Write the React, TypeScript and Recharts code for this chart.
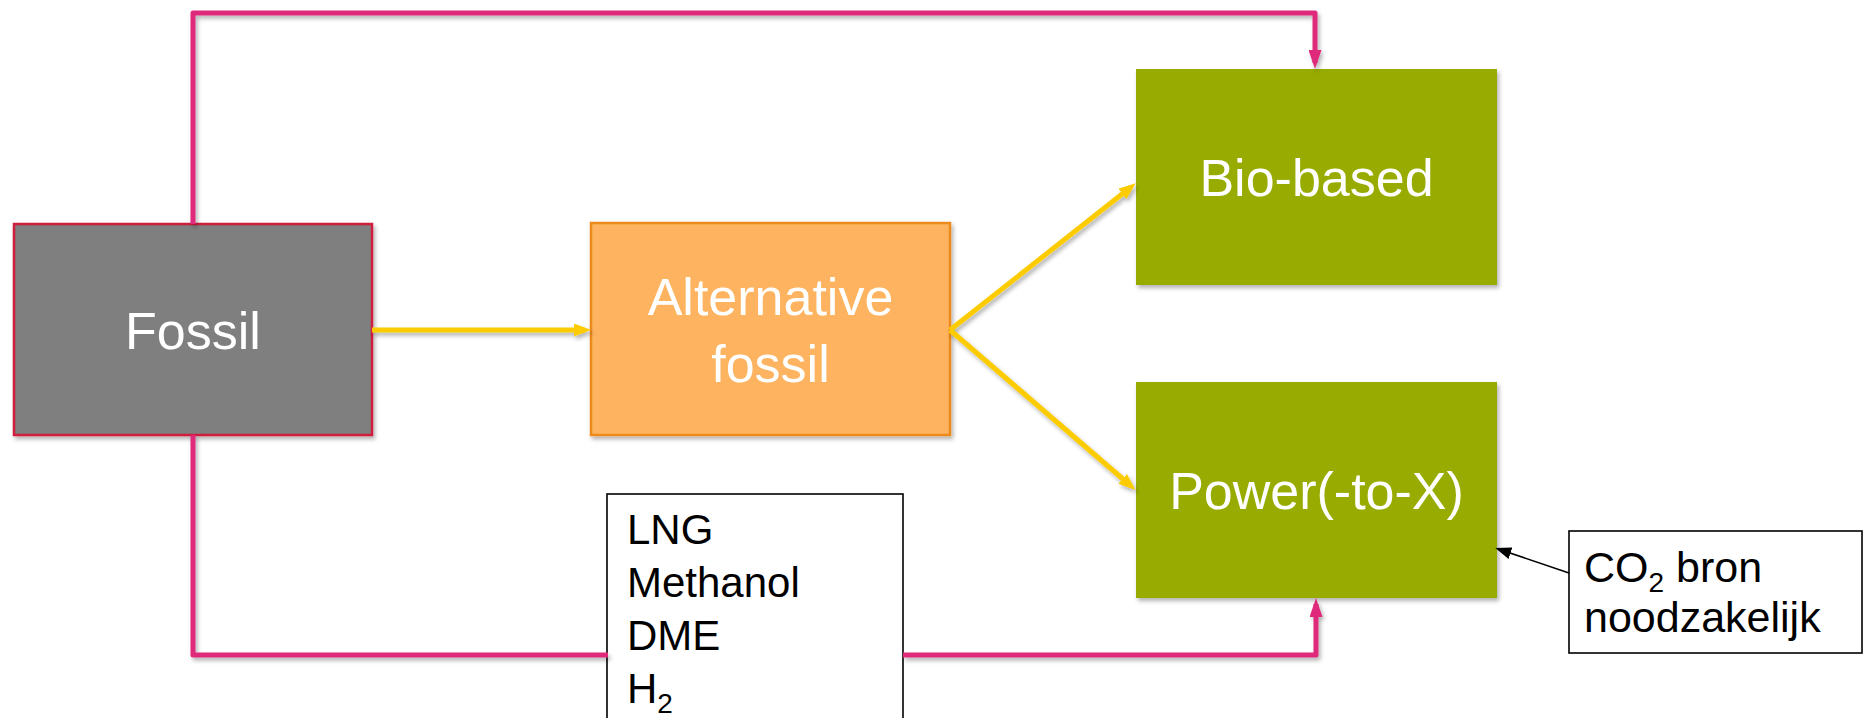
import { ComposedChart, Line, XAxis, YAxis, ReferenceArea } from 'recharts'

const W = 1865
const H = 718

// main blocks of the flow diagram (picture units: x right, y down)
const blockLines = [['Fossil'], ['Alternative', 'fossil'], ['Bio-based'], ['Power(-to-X)']]
const blockX1 = [14, 591, 1136, 1136]
const blockX2 = [372, 950, 1497, 1497]
const blockY1 = [224, 223, 69, 382]
const blockY2 = [435, 435, 285, 598]

// note boxes
const noteLines = [
  [{ t: 'LNG' }, { t: 'Methanol' }, { t: 'DME' }, { t: 'H', sub: '2' }],
  [{ t: 'CO', sub: '2', rest: ' bron' }, { t: 'noodzakelijk' }],
]
const noteX1 = [607, 1569]
const noteX2 = [903, 1862]
const noteY1 = [494, 531]
const noteY2 = [740, 653]

// connectors (last point = shaft end, the marker adds the tip)
const pinkTop = [
  { x: 193, y: 224 },
  { x: 193, y: 13 },
  { x: 1315, y: 13 },
  { x: 1315, y: 63 },
]
const pinkBottomA = [
  { x: 193, y: 435 },
  { x: 193, y: 655 },
  { x: 608, y: 655 },
]
const pinkBottomB = [
  { x: 903, y: 655 },
  { x: 1316, y: 655 },
  { x: 1316, y: 604 },
]
const yellowStraight = [
  { x: 372, y: 330 },
  { x: 585, y: 330 },
]
const yellowUp = [
  { x: 950, y: 330 },
  { x: 1131, y: 187 },
]
const yellowDown = [
  { x: 950, y: 330 },
  { x: 1131, y: 486 },
]
const blackPointer = [
  { x: 1569, y: 573 },
  { x: 1501, y: 550 },
]

const blockFill = ['#7f7f7f', '#fdb35f', '#97ab00', '#97ab00']
const blockStroke = ['#d01f3c', '#ec8a1e', 'none', 'none']
const FONT = "'Liberation Sans', Arial, Helvetica, sans-serif"

function BlockShape(props: any) {
  const { x, y, width, height, idx } = props
  const lines = blockLines[idx]
  const cx = x + width / 2
  const cy = y + height / 2
  const fs = 52
  const gap = 67
  const first = cy - ((lines.length - 1) * gap) / 2 + fs * 0.37
  return (
    <g>
      <rect
        x={x}
        y={y}
        width={width}
        height={height}
        fill={blockFill[idx]}
        stroke={blockStroke[idx]}
        strokeWidth={2.5}
        filter="url(#shadow)"
      />
      {lines.map((l, i) => (
        <text
          key={l}
          x={cx}
          y={first + i * gap}
          textAnchor="middle"
          fontFamily={FONT}
          fontSize={fs}
          fill="#ffffff"
        >
          {l}
        </text>
      ))}
    </g>
  )
}

function NoteShape(props: any) {
  const { x, y, width, height, idx } = props
  const lines = noteLines[idx]
  const padX = idx === 0 ? 20 : 15
  const first = idx === 0 ? 50 : 51
  const gap = idx === 0 ? 53 : 50
  return (
    <g>
      <rect x={x} y={y} width={width} height={height} fill="#ffffff" stroke="#000000" strokeWidth={1.6} />
      {lines.map((l, i) => (
        <text
          key={i}
          x={x + padX}
          y={y + first + i * gap}
          fontFamily={FONT}
          fontSize={idx === 0 ? 42 : 43}
          fill="#000000"
        >
          {l.t}
          {l.sub && (
            <tspan fontSize={28} dy={10}>
              {l.sub}
            </tspan>
          )}
          {l.rest && <tspan dy={-10}>{l.rest}</tspan>}
        </text>
      ))}
    </g>
  )
}

function Head({ id, color, len, w }: { id: string; color: string; len: number; w: number }) {
  return (
    <marker
      id={id}
      viewBox={`0 0 ${len} ${w}`}
      refX={len - 6}
      refY={w / 2}
      markerWidth={len}
      markerHeight={w}
      markerUnits="userSpaceOnUse"
      orient="auto"
    >
      <path d={`M0,0 L${len},${w / 2} L0,${w} Z`} fill={color} />
    </marker>
  )
}

const PINK = '#df2a7c'
const YELLOW = '#fccb00'

export default function App() {
  const connector = (key: string, data: any[], color: string, width: number, head?: string) => (
    <Line
      key={key}
      data={data}
      dataKey="y"
      type="linear"
      stroke={color}
      strokeWidth={width}
      strokeLinejoin="round"
      dot={false}
      activeDot={false}
      markerEnd={head ? `url(#${head})` : undefined}
      filter={color === '#000000' ? undefined : 'url(#shadow)'}
      isAnimationActive={false}
    />
  )

  return (
    <div style={{ position: 'absolute', left: 0, top: 0, width: W, height: H, background: '#ffffff' }}>
      <ComposedChart width={W} height={H} margin={{ top: 0, right: 0, bottom: 0, left: 0 }}>
        <defs>
          {/* user-space region so that straight (zero-height) lines keep their shadow */}
          <filter id="shadow" filterUnits="userSpaceOnUse" x={0} y={0} width={W} height={H}>
            <feDropShadow dx="2" dy="3" stdDeviation="2" floodColor="#000000" floodOpacity="0.3" />
          </filter>
          <Head id="pinkHead" color={PINK} len={19} w={13} />
          <Head id="yellowHead" color={YELLOW} len={17} w={13} />
          <Head id="blackHead" color="#000000" len={16} w={12} />
        </defs>
        <XAxis type="number" dataKey="x" domain={[0, W]} hide allowDataOverflow />
        <YAxis type="number" dataKey="y" domain={[0, H]} reversed hide allowDataOverflow />
        {blockLines.map((_, i) => (
          <ReferenceArea
            key={'b' + i}
            x1={blockX1[i]}
            x2={blockX2[i]}
            y1={blockY1[i]}
            y2={blockY2[i]}
            ifOverflow="visible"
            shape={(p: any) => <BlockShape {...p} idx={i} />}
          />
        ))}
        {connector('pt', pinkTop, PINK, 5, 'pinkHead')}
        {connector('pba', pinkBottomA, PINK, 5)}
        {connector('pbb', pinkBottomB, PINK, 5, 'pinkHead')}
        {connector('ys', yellowStraight, YELLOW, 5, 'yellowHead')}
        {connector('yu', yellowUp, YELLOW, 5, 'yellowHead')}
        {connector('yd', yellowDown, YELLOW, 5, 'yellowHead')}
        {connector('bp', blackPointer, '#000000', 1.6, 'blackHead')}
        {noteLines.map((_, i) => (
          <ReferenceArea
            key={'n' + i}
            x1={noteX1[i]}
            x2={noteX2[i]}
            y1={noteY1[i]}
            y2={noteY2[i]}
            ifOverflow="visible"
            shape={(p: any) => <NoteShape {...p} idx={i} />}
          />
        ))}
      </ComposedChart>
    </div>
  )
}
